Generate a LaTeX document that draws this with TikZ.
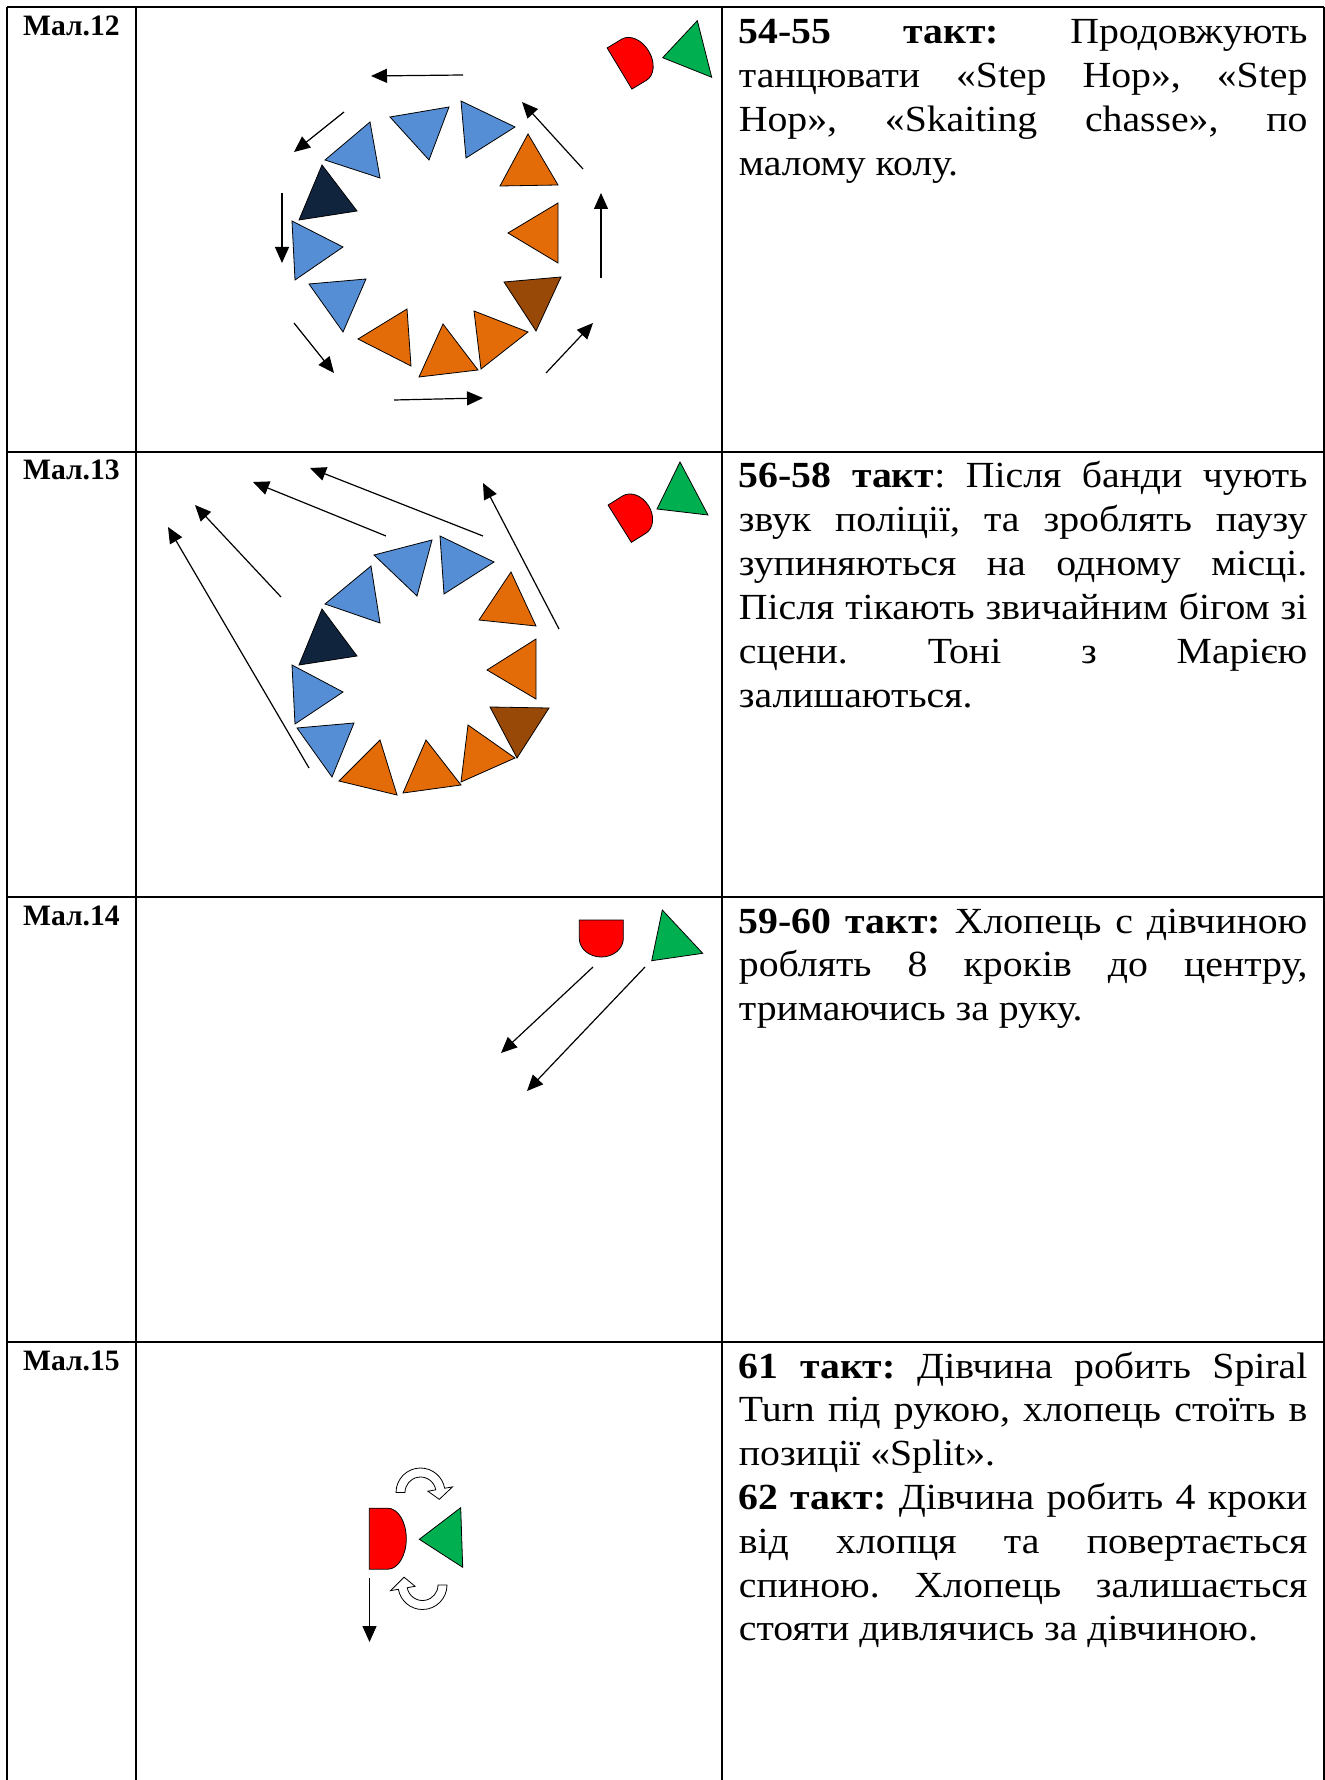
\documentclass[tikz,border=0pt]{standalone}
\usepackage{fontspec}
\setmainfont[FakeStretch=1.08]{Liberation Serif}
\newfontfamily\lblfont{Liberation Serif}
\usetikzlibrary{arrows.meta}
\definecolor{cblue}{HTML}{558ED5}
\definecolor{corange}{HTML}{E36C09}
\definecolor{cnavy}{HTML}{10243E}
\definecolor{cbrown}{HTML}{984807}
\definecolor{cred}{HTML}{FF0000}
\definecolor{cgreen}{HTML}{00B050}
\hyphenpenalty=10000\relax
\exhyphenpenalty=10000\relax
\tolerance=10000\relax
\frenchspacing
\newcommand\ptri[4]{\filldraw[tri, fill=#1] #2 -- #3 -- #4 -- cycle;}
\newcommand\dshape[5]{%
  \begin{scope}[shift={(#1,#2)}, rotate=#3]
    \filldraw[tri, fill=cred] (-#4/2,0) -- (#4/2,0) -- (#4/2,#5/2)
      arc[start angle=0, end angle=180, x radius=#4/2, y radius=#5/2] -- cycle;
  \end{scope}}
\newcommand\mvarrow[3]{\coordinate (#1s) at #2; \coordinate (#1e) at #3; \draw[mv] (#1s) -- (#1e);}
\tikzset{
  tri/.style={draw=black, line width=0.4pt, line join=miter},
  mv/.style={draw=black, line width=0.6pt, -{Triangle[length=8pt,width=7pt]}},
  gridline/.style={line width=1pt},
  lbl/.style={anchor=base west, inner sep=0pt, font=\lblfont\bfseries\fontsize{14.8}{17}\selectfont},
  txt/.style={anchor=base west, inner sep=0pt, text width=284.25pt, align=justify,
    font=\fontsize{18.4}{21.9}\selectfont},
  turnarrow/.style={draw=black, line width=0.4pt, fill=white},
}
\begin{document}
\begin{tikzpicture}[x=0.5pt, y=-0.5pt]
\useasboundingbox (0,0) rectangle (1325,1780);
% table
\draw[gridline] (7.3,7.3) -- (1324,7.3);
\draw[gridline] (7.3,452) -- (1324,452);
\draw[gridline] (7.3,897) -- (1324,897);
\draw[gridline] (7.3,1342) -- (1324,1342);
\draw[gridline] (7.3,7.3) -- (7.3,1780);
\draw[gridline] (136,7.3) -- (136,1780);
\draw[gridline] (722,7.3) -- (722,1780);
\draw[gridline] (1324,7.3) -- (1324,1780);
% labels
\node[lbl] (l12) at (22.7,36) {Мал.12};
\node[lbl] (l13) at (22.7,480) {Мал.13};
\node[lbl] (l14) at (22.7,925) {Мал.14};
\node[lbl] (l15) at (22.7,1370) {Мал.15};
% texts
\node[txt] (t12) at (738.5,44) {\textbf{54-55 такт:} Продовжують\linebreak танцювати «Step Hop», «Step\linebreak Hop», «Skaiting chasse», по\linebreak малому колу.};
\node[txt] (t13) at (738.5,488) {\textbf{56-58 такт}: Після банди чують\linebreak звук поліції, та зроблять паузу\linebreak зупиняються на одному місці.\linebreak Після тікають звичайним бігом зі\linebreak сцени. Тоні з Марією\linebreak залишаються.};
\node[txt] (t14) at (738.5,933) {\textbf{59-60 такт:} Хлопець с дівчиною\linebreak роблять 8 кроків до центру,\linebreak тримаючись за руку.};
\node[txt] (t15) at (738.5,1378) {\textbf{61 такт:} Дівчина робить Spiral\linebreak Turn під рукою, хлопець стоїть в\linebreak позиції «Split».\par\textbf{62 такт:} Дівчина робить 4 кроки\linebreak від хлопця та повертається\linebreak спиною. Хлопець залишається\linebreak стояти дивлячись за дівчиною.};
% ---------- Row 1 ----------
\ptri{cblue}{(325,160)}{(370,122)}{(380,178)}
\ptri{cblue}{(390,117)}{(449,107)}{(429,160)}
\ptri{cblue}{(461,101)}{(515,127)}{(466,158)}
\ptri{corange}{(528,134)}{(558,185)}{(500,186)}
\ptri{cnavy}{(322,165)}{(357,211)}{(299,220)}
\ptri{cblue}{(292,221)}{(343,247)}{(295,280)}
\ptri{corange}{(558,203)}{(558,263)}{(508,233)}
\ptri{cblue}{(309,284)}{(366,279)}{(343,332)}
\ptri{cbrown}{(504,282)}{(561,277)}{(536,331)}
\ptri{corange}{(358,339)}{(407,309)}{(411,366)}
\ptri{corange}{(443,324)}{(478,370)}{(419,377)}
\ptri{corange}{(474,311)}{(528,332)}{(481,369)}
\dshape{619.5}{68.5}{121}{48}{34}
\ptri{cgreen}{(662.7,57.7)}{(697.3,20.7)}{(711.7,77.3)}
\mvarrow{a1}{(463,75)}{(371,76)}
\mvarrow{a2}{(344,112)}{(294,152)}
\mvarrow{a3}{(282,193)}{(282,263)}
\mvarrow{a4}{(294,323)}{(334,373)}
\mvarrow{a5}{(394,400)}{(483,398)}
\mvarrow{a6}{(546,373)}{(593,323)}
\mvarrow{a7}{(601,278)}{(601,193)}
\mvarrow{a8}{(583,169)}{(522,102)}
% ---------- Row 2 ----------
\ptri{cblue}{(374,555)}{(432,540)}{(417,596)}
\ptri{cblue}{(440,536)}{(494,562)}{(444,594)}
\ptri{cblue}{(325,604)}{(371,566)}{(380,623)}
\ptri{corange}{(511,572)}{(536,626)}{(479,620)}
\ptri{cnavy}{(322,609)}{(357,656)}{(299,665)}
\ptri{cblue}{(292,665)}{(343,692)}{(295,724)}
\ptri{corange}{(536,639)}{(536,699)}{(487,670)}
\ptri{cblue}{(297,728)}{(354,723)}{(332,777)}
\ptri{cbrown}{(490,707)}{(549,708)}{(517,758)}
\ptri{corange}{(339,781)}{(380,740)}{(397,795)}
\ptri{corange}{(426,740)}{(461,785)}{(403,793)}
\ptri{corange}{(468,725)}{(515,758)}{(461,782)}
\dshape{619.7}{523.7}{122}{44}{34}
\ptri{cgreen}{(657,509)}{(680,462)}{(708,515)}
\mvarrow{b1}{(309,768)}{(168,527)}
\mvarrow{b2}{(281,597)}{(195,505)}
\mvarrow{b3}{(386,536)}{(253,482)}
\mvarrow{b4}{(483,536)}{(310,468)}
\mvarrow{b5}{(559,629)}{(483,483)}
% ---------- Row 3 ----------
\dshape{601.3}{920}{0}{44}{37}
\ptri{cgreen}{(651.7,960.7)}{(662.3,910)}{(702.7,953.3)}
\mvarrow{c1}{(593,967)}{(501,1053)}
\mvarrow{c2}{(645,967)}{(527,1091)}
% ---------- Row 4 ----------
\dshape{369.3}{1538.7}{90}{61}{37}
\ptri{cgreen}{(460.7,1507.7)}{(462.7,1567.3)}{(419.3,1539.3)}
\mvarrow{d1}{(369.5,1578)}{(369.5,1642)}
\begin{scope}[shift={(420.5,1492.5)}]
  \filldraw[turnarrow] (180:24.5) arc[start angle=180, end angle=350, radius=24.5]
    -- (350:32.5) -- (380:20) -- (350:7.5) -- (350:15.5)
    arc[start angle=350, end angle=180, radius=15.5] -- cycle;
\end{scope}
\begin{scope}[shift={(422.5,1585)}]
  \filldraw[turnarrow] (0:24.5) arc[start angle=0, end angle=170, radius=24.5]
    -- (170:32.5) -- (203:20) -- (170:7.5) -- (170:15.5)
    arc[start angle=170, end angle=0, radius=15.5] -- cycle;
\end{scope}
\end{tikzpicture}
\end{document}
